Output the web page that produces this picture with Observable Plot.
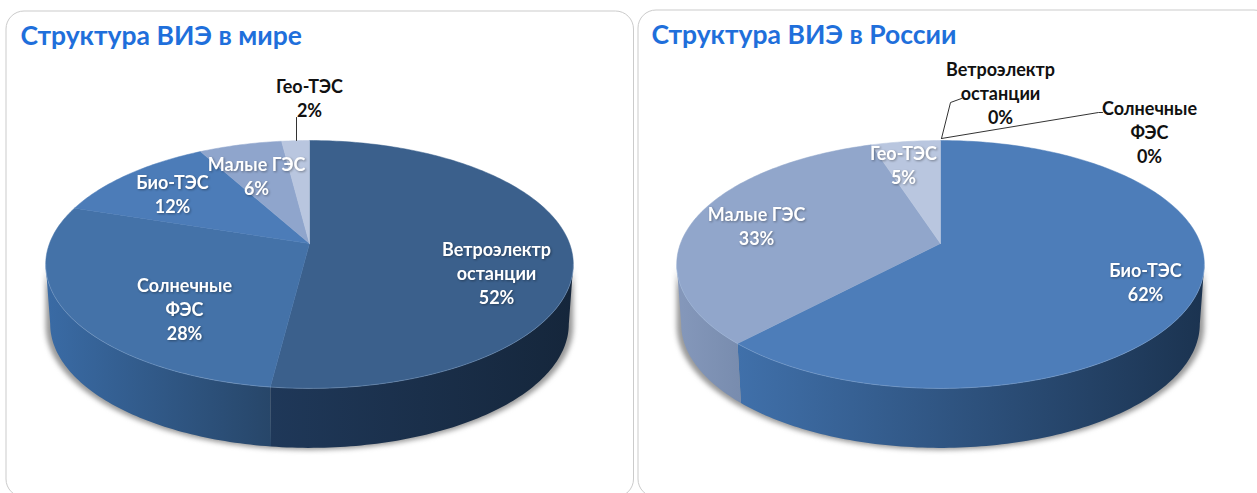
<!DOCTYPE html>
<html><head><meta charset="utf-8">
<style>html,body{margin:0;padding:0;background:#fff;overflow:hidden}svg{display:block}</style>
<script src="https://cdn.jsdelivr.net/npm/d3@7"></script>
<script src="https://cdn.jsdelivr.net/npm/@observablehq/plot@0.6"></script>
</head><body><script>
// ---- data ----
const worldTitle = "Структура ВИЭ в мире";
const russiaTitle = "Структура ВИЭ в России";
const worldCategories = ["Ветроэлектр\nостанции", "Солнечные\nФЭС", "Био-ТЭС", "Малые ГЭС", "Гео-ТЭС"];
const worldValues = [52, 28, 12, 6, 2];
const russiaCategories = ["Био-ТЭС", "Малые ГЭС", "Гео-ТЭС", "Ветроэлектр\nостанции", "Солнечные\nФЭС"];
const russiaValues = [62, 33, 5, 0, 0];

// ---- styles and layout (separate from the data) ----
const worldTop = ["#3b608c", "#4472a8", "#4c7cb8", "#8fa5cc", "#b9c6df"];
const worldWall = [["#1f3859", "#15263b"], ["#3a6ba5", "#274669"], ["#4c7cb8", "#3a6090"], ["#8fa5cc", "#7c90b0"], ["#b9c6df", "#9fabc0"]];
const russiaTop = ["#4d7db9", "#91a6cb", "#b9c6df", "#3b608c", "#4472a8"];
const russiaWall = [["#4070aa", "#1b3350"], ["#8598bb", "#788cae"], ["#b9c6df", "#9fabc0"], ["#203a5b", "#14253a"], ["#3a6ba6", "#294a72"]];
const worldPos = [[496, 272], [184, 308], [172, 193], [256, 175], [309, 97]];
const russiaPos = [[1145, 281], [756, 225], [903, 164], [1000, 92], [1149, 131]];
const worldDark = [false, false, false, false, true];
const russiaDark = [false, false, false, true, true];
const geom = {ay: 243, A: 260, B: 120.4, k: 0.169, depth: 59.5, shrink: 0.983};
const worldCx = 309, russiaCx = 940;

function project(cx, deg) {
  const t = deg * Math.PI / 180, u = Math.sin(t), v = -Math.cos(t), w = 1 - geom.k * v;
  return {x: cx + geom.A * u / w, y: geom.ay + geom.B * v / w};
}
function lower(cx, p) { return {x: cx + (p.x - cx) * geom.shrink, y: p.y + geom.depth}; }
const frontA = 90 + Math.asin(geom.k) * 180 / Math.PI, frontB = 360 - frontA;
function arc(cx, a, b) {
  const out = [], n = Math.max(1, Math.ceil(Math.abs(b - a)));
  for (let i = 0; i <= n; ++i) out.push(project(cx, a + (b - a) * i / n));
  return out;
}
function slices(cx, values) {
  const total = d3.sum(values), cum = [0, ...d3.cumsum(values)];
  return values.map((v, i) => {
    const a = cum[i] / total * 360, b = cum[i + 1] / total * 360;
    const top = [{x: cx, y: geom.ay}, ...arc(cx, a, b), {x: cx, y: geom.ay}];
    const fa = Math.max(a, frontA), fb = Math.min(b, frontB);
    let wall = null;
    if (fb > fa) {
      const t = arc(cx, fa, fb);
      wall = [...t, ...t.slice().reverse().map(p => lower(cx, p))];
    }
    return {i, v, top, wall, edge: fb > fa ? arc(cx, fa, fb) : null};
  });
}
function defs(id, stops, x0, x1) {
  return () => {
    const g = d3.create("svg:linearGradient").attr("id", id).attr("gradientUnits", "userSpaceOnUse")
      .attr("x1", x0).attr("x2", x1).attr("y1", 0).attr("y2", 0);
    g.append("stop").attr("offset", 0).attr("stop-color", stops[0]);
    g.append("stop").attr("offset", 1).attr("stop-color", stops[1]);
    const d = d3.create("svg:defs"); d.append(() => g.node());
    return d.node();
  };
}
function pieMarks(name, cx, values, topColors, wallColors) {
  const s = slices(cx, values), marks = [];
  const shadow = [...arc(cx, frontA, frontB), ...arc(cx, frontA, frontB).reverse().map(p => ({x: p.x, y: p.y + geom.depth + 2}))];
  marks.push(Plot.line(shadow, {x: "x", y: "y", fill: "#777", stroke: "none", imageFilter: "blur(2.5px)", fillOpacity: 0.75}));
  for (const d of s) if (d.wall) {
    const id = `${name}-wall-${d.i}`;
    const [x0, x1] = d3.extent(d.wall, p => p.x);
    marks.push(defs(id, wallColors[d.i], x0, x1));
    marks.push(Plot.line(d.wall, {x: "x", y: "y", fill: `url(#${id})`, stroke: "none"}));
  }
  for (const d of s) if (d.v > 0)
    marks.push(Plot.line(d.top, {x: "x", y: "y", fill: topColors[d.i], stroke: topColors[d.i], strokeWidth: 0.5}));
  for (const d of s) if (d.edge)
    marks.push(Plot.line(d.edge, {x: "x", y: "y", stroke: "#a8c4e8", strokeOpacity: 0.28, strokeWidth: 1}));
  return marks;
}
function labelRows(categories, values, pos, dark) {
  return categories.map((c, i) => ({text: `${c}\n${values[i]}%`, x: pos[i][0], y: pos[i][1], dark: dark[i]}));
}
const labels = [...labelRows(worldCategories, worldValues, worldPos, worldDark),
                ...labelRows(russiaCategories, russiaValues, russiaPos, russiaDark)];
const panels = [{x1: 6, x2: 633.5, y1: 11, y2: 497}, {x1: 638, x2: 1272, y1: 10, y2: 497}];
const titles = [{text: worldTitle, x: 20, y: 36}, {text: russiaTitle, x: 651, y: 35}];
const leaders = [
  {id: "a", pts: [[296, 117], [296, 140]]},
  {id: "b", pts: [[941, 138], [950, 102], [961, 98]]},
  {id: "c", pts: [[941, 138], [1098, 112], [1102, 112]]}
].flatMap(l => l.pts.map(p => ({id: l.id, x: p[0], y: p[1]})));

const font = "Lato, 'Open Sans', sans-serif";
const chart = Plot.plot({
  width: 1257, height: 493, margin: 0,
  x: {domain: [0, 1257], range: [0, 1257], axis: null},
  y: {domain: [0, 493], range: [0, 493], axis: null},
  style: {background: "#fff", fontFamily: font},
  marks: [
    Plot.rect(panels, {x1: "x1", x2: "x2", y1: "y1", y2: "y2", rx: 18, fill: "#fff", stroke: "#cbcbcb", strokeWidth: 1}),
    ...pieMarks("world", worldCx, worldValues, worldTop, worldWall),
    ...pieMarks("russia", russiaCx, russiaValues, russiaTop, russiaWall),
    Plot.line(leaders, {x: "x", y: "y", z: "id", stroke: "#333", strokeWidth: 1}),
    Plot.text(titles, {x: "x", y: "y", text: "text", textAnchor: "start", fontSize: 26.5, fontWeight: 700, fill: "#1f6fdb"}),
    Plot.text(labels.filter(d => !d.dark), {x: "x", y: "y", text: "text", fontSize: 18, fontWeight: 700, lineHeight: 1.33, fill: "#fff", imageFilter: "drop-shadow(1px 1px 1px rgba(0,0,0,.35))"}),
    Plot.text(labels.filter(d => d.dark), {x: "x", y: "y", text: "text", fontSize: 18, fontWeight: 700, lineHeight: 1.33, fill: "#111"})
  ]
});
document.body.append(chart);
</script></body></html>
